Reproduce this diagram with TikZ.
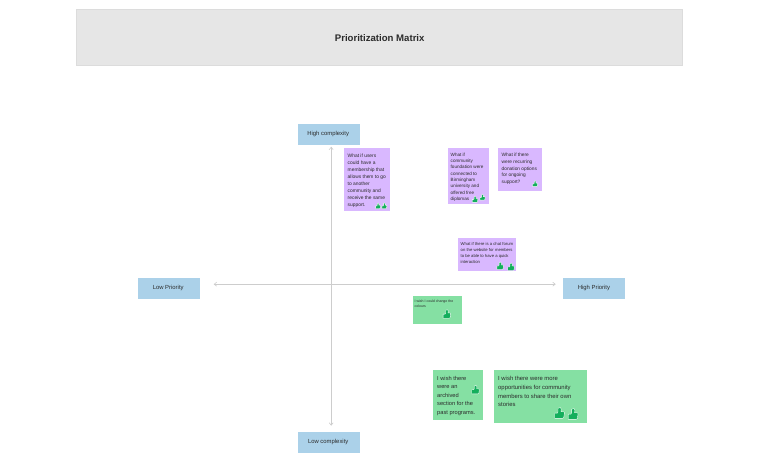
\documentclass[tikz,border=0pt]{standalone}
\usepackage{fontspec}
\setmainfont{Liberation Sans}
\usetikzlibrary{arrows.meta}
\definecolor{hdr}{HTML}{E6E6E6}
\definecolor{hdrline}{HTML}{DCDCDC}
\definecolor{axisblue}{HTML}{ABD1E9}
\definecolor{purp}{HTML}{D9B8FF}
\definecolor{grn}{HTML}{85E0A3}
\definecolor{thumb}{HTML}{14AE5C}
\definecolor{ink}{HTML}{2B2B2B}
\definecolor{axisline}{HTML}{CDCDCD}
\tikzset{
  x=1pt,y=-1pt,
  every node/.style={inner sep=0pt,outer sep=0pt,text=ink},
  header/.style={draw=hdrline,line width=.5pt,fill=hdr,minimum width=606pt,minimum height=56pt,font=\fontsize{9.6}{11}\selectfont\bfseries},
  axislabel/.style={fill=axisblue,draw=white,line width=.4pt,minimum width=63pt,minimum height=22pt,font=\fontsize{5.9}{8}\selectfont},
  sticky/.style={draw=white,line width=.5pt,anchor=north west,align=left},
  purple/.style={sticky,fill=purp},
  green/.style={sticky,fill=grn},
  axisarrow/.style={draw=axisline,line width=.6pt,{Straight Barb[length=2.5pt,width=4pt]}-{Straight Barb[length=2.5pt,width=4pt]}},
  thumbicon/.pic={
    \path[fill=thumb,draw=white,line width=.35pt,line join=round,pic actions]
      (-1,-.05) -- (-.45,-.05) -- (-.3,-.35) -- (-.3,-1.1) -- (.2,-1.25) .. controls (.42,-1.2) and (.42,-.8) .. (.35,-.35)
      -- (.9,-.35) .. controls (1.1,-.35) and (1.1,-.1) .. (1.05,.05) -- (.92,.9) .. controls (.9,1.05) and (.75,1.05) .. (.65,1.05) -- (-1,1.05) -- cycle;
  }
}
\begin{document}
\begin{tikzpicture}
\useasboundingbox (0.3,0.3) rectangle (760.3,463.3);
\fill[white] (0,0) rectangle (761,464);
\node[header] (title) at (380,38) {Prioritization Matrix};
\node[axislabel] (highc) at (328.5,134) {High complexity};
\node[axislabel] (lowc) at (328.5,442.5) {Low complexity};
\node[axislabel] (lowp) at (168.5,288.7) {Low Priority};
\node[axislabel] (highp) at (594.2,288.7) {High Priority};
\coordinate (axT) at (331.5,147);
\coordinate (axB) at (331.5,426);
\coordinate (axL) at (214,284.5);
\coordinate (axR) at (556,284.5);
\draw[axisarrow] (axT) -- (axB);
\draw[axisarrow] (axL) -- (axR);
% purple notes
\node[purple,minimum width=47pt,minimum height=64pt] (p1) at (344,148) {};
\node[anchor=north west,align=left,font=\fontsize{4.9}{7.05}\selectfont] (p1t) at (348,154) {What if users\\could have a\\membership that\\allows them to go\\to another\\community and\\receive the same\\support.};
\node[purple,minimum width=42pt,minimum height=57.5pt] (p2) at (447.5,147.5) {};
\node[anchor=north west,align=left,font=\fontsize{4.6}{6.3}\selectfont] (p2t) at (451,153.3) {What if\\community\\foundation were\\connected to\\Birmingham\\university and\\offered free\\diplomas};
\node[purple,minimum width=45pt,minimum height=44.5pt] (p3) at (498,147.5) {};
\node[anchor=north west,align=left,font=\fontsize{4.8}{6.65}\selectfont] (p3t) at (502,153.7) {What if there\\were recurring\\donation options\\for ongoing\\support?};
\node[purple,minimum width=59pt,minimum height=34pt] (p4) at (458,238) {};
\node[anchor=north west,align=left,font=\fontsize{4.2}{6}\selectfont] (p4t) at (461,243) {What if there is a chat forum\\on the website for members\\to be able to have a quick\\interaction};
% green notes
\node[green,minimum width=50pt,minimum height=28.5pt] (g1) at (413,296) {};
\node[anchor=north west,align=left,font=\fontsize{3.5}{4.9}\selectfont] (g1t) at (415,300.3) {I wish I could change the\\colours};
\node[green,minimum width=51pt,minimum height=51pt] (g2) at (433,370) {};
\node[anchor=north west,align=left,font=\fontsize{5.7}{8.55}\selectfont] (g2t) at (437.5,376.5) {I wish there\\were an\\archived\\section for the\\past programs.};
\node[green,minimum width=94pt,minimum height=54pt] (g3) at (494,370) {};
\node[anchor=north west,align=left,font=\fontsize{5.9}{8.6}\selectfont] (g3t) at (498.5,377) {I wish there were more\\opportunities for community\\members to share their own\\stories};
% thumbs
\foreach \x/\y/\s in {378.3/206.3/2.4,384.6/206.3/2.4,475.3/199.8/2.7,482.8/197.8/2.5,535.3/184.3/2.5,500.4/266.4/3.2,511.3/267.4/3.2,447.1/314.6/3.7,475.7/390.3/3.7,559.7/413.7/4.7,573.3/414.7/4.7}
  \pic[scale=\s,transform shape] at (\x,\y) {thumbicon};
\end{tikzpicture}
\end{document}
